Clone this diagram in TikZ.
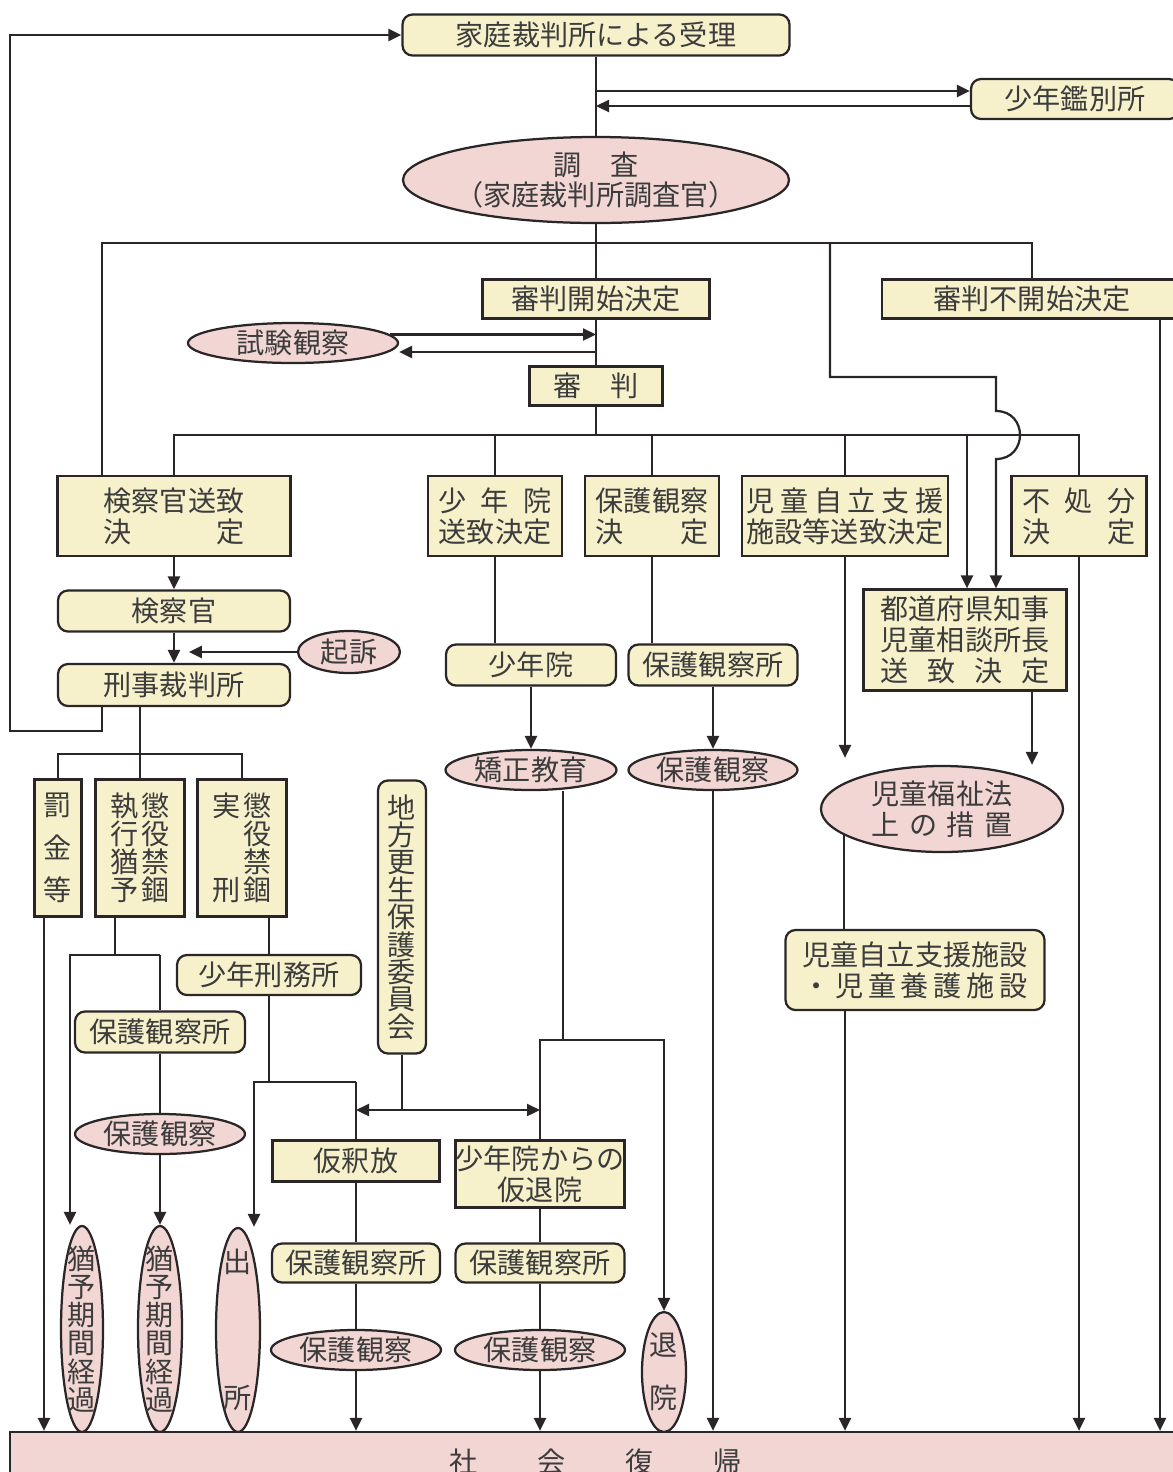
\documentclass[tikz,border=0pt]{standalone}
\usepackage{fontspec}
\setmainfont{Noto Sans CJK JP}
\usetikzlibrary{arrows.meta,shapes.geometric}
\definecolor{crema}{HTML}{F6F1CB}
\definecolor{rosa}{HTML}{F2D6D4}
\definecolor{linea}{HTML}{2A2627}
\definecolor{texto}{HTML}{3C3C3C}
\newcommand\reparte[2]{\makebox[#1][s]{#2}}
\begin{document}
\begin{tikzpicture}[x=0.2mm, y=-0.2mm, line width=0.45mm, color=linea,
    caja/.style={draw=linea, fill=crema, inner sep=0pt, align=center, text=texto,
      font=\fontsize{16}{17.6}\selectfont},
    redonda/.style={caja, rounded corners=2mm},
    elipse/.style={caja, ellipse, fill=rosa, inner sep=-30pt},
    tam/.style 2 args={minimum width=#1*0.2mm, minimum height=#2*0.2mm},
    vert/.style={font=\fontsize{16}{16}\selectfont},
    flecha/.style={-{Triangle[length=2.6mm, width=2.4mm]}},
    doble/.style={{Triangle[length=2.6mm, width=2.4mm]}-{Triangle[length=2.6mm, width=2.4mm]}}]
    \useasboundingbox (0,0) rectangle (1173,1472);
    % Recepcion e investigacion
    \node[redonda, tam={387}{41}] (juri) at (596,35) {家庭裁判所による受理};
    \node[redonda, tam={208}{40}] (kanbetsu) at (1075,99) {少年鑑別所};
    \node[elipse, tam={386}{86}] (chosa) at (596,180) {調　査\\（家庭裁判所調査官）};
    \node[caja, tam={227}{39}] (kaishi) at (596,299) {審判開始決定};
    \node[caja, tam={300}{39}] (fukaishi) at (1032,299) {審判不開始決定};
    \node[elipse, tam={210}{40}] (shiken) at (293,343) {試験観察};
    \node[caja, tam={133}{39}] (shinpan) at (596,386) {審　判};
    % Decisiones
    \node[caja, tam={233}{80}] (kensatsu) at (174,516) {検察官送致\\決　　　定};
    \node[caja, tam={134}{80}] (shonenin) at (495,516) {\reparte{4em}{少\hfill 年\hfill 院}\\送致決定};
    \node[caja, tam={134}{80}] (hogo) at (652,516) {保護観察\\決　　定};
    \node[caja, tam={206}{80}] (jido) at (845,516) {\reparte{7em}{児\hfill 童\hfill 自\hfill 立\hfill 支\hfill 援}\\施設等送致決定};
    \node[caja, tam={135}{80}] (fusho) at (1079,516) {\reparte{4em}{不\hfill 処\hfill 分}\\決　　定};
    % Via penal
    \node[redonda, tam={232}{41}] (kensatsukan) at (174,611) {検察官};
    \node[redonda, tam={232}{42}] (keiji) at (174,685) {刑事裁判所};
    \node[elipse, tam={102}{42}] (kiso) at (349,652) {起訴};
    \node[caja, tam={47}{137}, font=\fontsize{16}{24.2}\selectfont] (bakkin) at (58,848) {罰\\金\\等};
    \node[caja, tam={89}{137}, vert] (yuyo) at (140,848) {執\kern.5mm 懲\\行\kern.5mm 役\\猶\kern.5mm 禁\\予\kern.5mm 錮};
    \node[caja, tam={89}{137}, vert] (jikkei) at (242,848) {実\kern.5mm 懲\\　\kern.5mm 役\\　\kern.5mm 禁\\刑\kern.5mm 錮};
    \node[redonda, tam={184}{40}] (keimusho) at (269,975) {少年刑務所};
    \node[redonda, tam={170}{41}] (hogosho2) at (160,1032) {保護観察所};
    \node[elipse, tam={170}{40}] (hogo2) at (160,1134) {保護観察};
    \node[elipse, tam={42}{206}, vert] (keika1) at (82,1329) {猶\\予\\期\\間\\経\\過};
    \node[elipse, tam={44}{206}, vert] (keika2) at (160,1329) {猶\\予\\期\\間\\経\\過};
    \node[elipse, tam={44}{204}] (shussho) at (238,1330) {出\\[21mm]所};
    \node[redonda, tam={48}{273}, font=\fontsize{16}{15.6}\selectfont] (chiho) at (402,917) {地\\方\\更\\生\\保\\護\\委\\員\\会};
    \node[caja, tam={167}{41}] (karishaku) at (356,1161) {仮釈放};
    \node[redonda, tam={168}{39}] (hogosho3) at (356,1263) {保護観察所};
    \node[elipse, tam={170}{40}] (hogo3) at (356,1350) {保護観察};
    % Reformatorio
    \node[redonda, tam={170}{41}] (shonenin2) at (531,665) {少年院};
    \node[elipse, tam={171}{40}] (kyosei) at (531,770) {矯正教育};
    \node[caja, tam={169}{67}] (karitaiin) at (540,1174) {少年院からの\\仮退院};
    \node[redonda, tam={169}{39}] (hogosho4) at (540,1263) {保護観察所};
    \node[elipse, tam={170}{40}] (hogo4) at (540,1350) {保護観察};
    \node[elipse, tam={44}{120}] (taiin) at (664,1372) {退\\[4.4mm]院};
    % Libertad vigilada
    \node[redonda, tam={169}{41}] (hogosho1) at (713,665) {保護観察所};
    \node[elipse, tam={169}{40}] (hogo1) at (713,770) {保護観察};
    % Via asistencial
    \node[caja, tam={203}{101}] (todofuken) at (965,640) {都道府県知事\\児童相談所長\\\reparte{6em}{送\hfill 致\hfill 決\hfill 定}};
    \node[elipse, tam={242}{86}] (fukushi) at (942,809) {児童福祉法\\\reparte{5em}{上\hfill の\hfill 措\hfill 置}};
    \node[redonda, tam={259}{80}] (shisetsu) at (915,970) {児童自立支援施設\\\reparte{8em}{・\hfill 児\hfill 童\hfill 養\hfill 護\hfill 施\hfill 設}};
    % Salida
    \node[caja, fill=rosa, tam={1171}{60}] (fukki) at (595.5,1462) {\reparte{10.4em}{社\hfill 会\hfill 復\hfill 帰}};

    % Puntos de quiebre
    \coordinate (a1) at (596,91);
    \coordinate (a2) at (596,106);
    \coordinate (b1) at (596,243);
    \coordinate (b2) at (102,243);
    \coordinate (b3) at (830,243);
    \coordinate (j1) at (830,377);
    \coordinate (j2) at (996,377);
    \coordinate (j3) at (996,411);
    \coordinate (j4) at (996,459);
    \coordinate (t1) at (596,335);
    \coordinate (t2) at (596,352);
    \coordinate (c1) at (596,435);
    \coordinate (c2) at (967,435);
    \coordinate (r1) at (102,731);
    \coordinate (r2) at (10,731);
    \coordinate (r3) at (10,35);
    \coordinate (d1) at (140,754);
    \coordinate (g1) at (44,917);
    \coordinate (e1) at (115,955);
    \coordinate (e2) at (70,955);
    \coordinate (e3) at (160,955);
    \coordinate (h1) at (269,1082);
    \coordinate (h2) at (254,1082);
    \coordinate (h3) at (356,1082);
    \coordinate (m1) at (402,1110);
    \coordinate (m2) at (356,1110);
    \coordinate (m3) at (540,1110);
    \coordinate (k1) at (563,1040);
    \coordinate (k2) at (540,1040);
    \coordinate (k3) at (664,1040);
    \coordinate (p1) at (1032,691);
    \coordinate (q1) at (1160,319);

    % Recepcion y clasificacion
    \draw (juri.south) -- (chosa.north);
    \draw[flecha] (a1) -- (a1 -| kanbetsu.west);
    \draw[flecha] (a2 -| kanbetsu.west) -- (a2);
    \draw (chosa.south) -- (kaishi.north);
    \draw (kensatsu.north -| b2) -- (b2) -- (b1 -| fukaishi.north) -- (fukaishi.north);
    \draw[flecha] (b3) -- (j1) -- (j2) -- (j3) .. controls +(32,0) and +(32,0) .. (j4) -- (j4 |- todofuken.north);
    \draw (kaishi.south) -- (shinpan.north);
    \draw[flecha] (shiken.5) -- (shiken.5 -| t1);
    \draw[flecha] (t2) -- (t2 -| shiken.east);
    \draw (shinpan.south) -- (c1);
    \draw (kensatsu.north) |- (c1);
    \draw (c1) -| (fusho.north);
    \draw (shonenin.north) -- (shonenin.north |- c1);
    \draw (hogo.north) -- (hogo.north |- c1);
    \draw (jido.north) -- (jido.north |- c1);
    \draw[flecha] (c2) -- (c2 |- todofuken.north);

    % Via penal
    \draw[flecha] (kensatsu.south) -- (kensatsukan.north);
    \draw[flecha] (kensatsukan.south) -- (keiji.north);
    \draw[flecha] (kiso.west) -- ++(-108,0);
    \draw[flecha] (keiji.south -| r1) -- (r1) -- (r2) -- (r3) -- (juri.west);
    \draw (keiji.south -| d1) -- (d1 |- yuyo.north);
    \draw (bakkin.north) |- (d1) -| (jikkei.north);
    \draw[flecha] (g1) -- (g1 |- fukki.north);
    \draw (yuyo.south -| e1) -- (e1);
    \draw[flecha] (e3) -- (e2) -- (e2 |- keika1.north);
    \draw (e3) -- (hogosho2.north);
    \draw (hogosho2.south) -- (hogo2.north);
    \draw[flecha] (hogo2.south) -- (keika2.north);
    \draw (jikkei.south -| keimusho.north) -- (keimusho.north);
    \draw (keimusho.south) -- (h1);
    \draw[flecha] (h3) -- (h2) -- (h2 |- shussho.north);
    \draw (h3) -- (karishaku.north);
    \draw (chiho.south) -- (m1);
    \draw[doble] (m2) -- (m3);
    \draw (karishaku.south) -- (hogosho3.north);
    \draw (hogosho3.south) -- (hogo3.north);
    \draw[flecha] (hogo3.south) -- (hogo3.south |- fukki.north);

    % Reformatorio
    \draw (shonenin.south) -- (shonenin.south |- shonenin2.north);
    \draw[flecha] (shonenin2.south) -- (kyosei.north);
    \draw (k1 |- kyosei.south) -- (k1);
    \draw[flecha] (karitaiin.north) -- (k2) -- (k3) -- (taiin.north);
    \draw (karitaiin.south) -- (hogosho4.north);
    \draw (hogosho4.south) -- (hogo4.north);
    \draw[flecha] (hogo4.south) -- (hogo4.south |- fukki.north);

    % Libertad vigilada
    \draw (hogo.south) -- (hogo.south |- hogosho1.north);
    \draw[flecha] (hogosho1.south) -- (hogo1.north);
    \draw[flecha] (hogo1.south) -- (hogo1.south |- fukki.north);

    % Via asistencial
    \draw[flecha, shorten >=1.4mm] (jido.south) -- (jido.south |- fukushi.north);
    \draw[flecha] (todofuken.south -| p1) -- (p1 |- fukushi.north);
    \draw (fukushi.195) -- (fukushi.195 |- shisetsu.north);
    \draw[flecha] (shisetsu.south -| jido.south) -- (jido.south |- fukki.north);
    \draw[flecha] (fusho.south) -- (fusho.south |- fukki.north);
    \draw[flecha] (q1) -- (q1 |- fukki.north);
\end{tikzpicture}
\end{document}
